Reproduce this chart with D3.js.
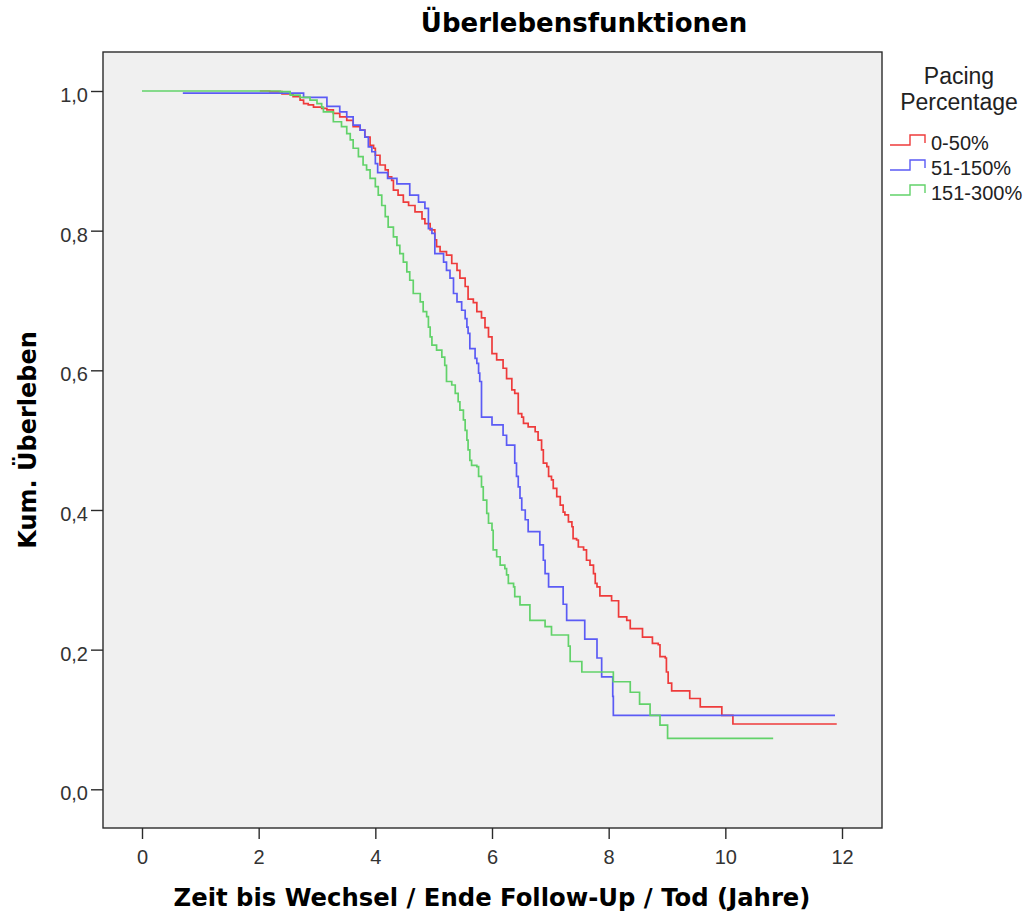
<!DOCTYPE html>
<html>
<head>
<meta charset="utf-8">
<script src="https://cdn.jsdelivr.net/npm/d3@7"></script>
<style>
  body { margin: 0; background: #fff; }
  svg { display: block; }
</style>
</head>
<body>
<script>
// groups and their colours in the legend order
const groups = ["0-50%", "51-150%", "151-300%"];
const colors = ["#ee3b3b", "#5b5bf5", "#62d26a"];

// Kaplan-Meier steps: [time (years), survival after the step]
const red = [
  [2.02, 1.0], [2.19, 0.999], [2.40, 0.996], [2.59, 0.992], [2.71, 0.987], [2.77, 0.982],
  [2.85, 0.980], [2.94, 0.977], [3.08, 0.975], [3.17, 0.973], [3.28, 0.968], [3.39, 0.963],
  [3.51, 0.958], [3.62, 0.949], [3.74, 0.944], [3.82, 0.934], [3.91, 0.922], [3.97, 0.918],
  [4.00, 0.908], [4.08, 0.894], [4.17, 0.887], [4.22, 0.877], [4.28, 0.872], [4.31, 0.858],
  [4.39, 0.851], [4.48, 0.841], [4.57, 0.836], [4.68, 0.827], [4.80, 0.817], [4.85, 0.810],
  [4.94, 0.801], [5.02, 0.787], [5.05, 0.777], [5.11, 0.770], [5.22, 0.765], [5.31, 0.753],
  [5.40, 0.743], [5.45, 0.732], [5.54, 0.720], [5.59, 0.702], [5.68, 0.697], [5.74, 0.684],
  [5.82, 0.675], [5.88, 0.661], [5.94, 0.648], [6.00, 0.624], [6.08, 0.615], [6.19, 0.603],
  [6.25, 0.588], [6.34, 0.572], [6.39, 0.567], [6.45, 0.538], [6.51, 0.533], [6.54, 0.524],
  [6.62, 0.519], [6.74, 0.512], [6.79, 0.500], [6.85, 0.486], [6.88, 0.467], [6.94, 0.462],
  [6.97, 0.448], [7.02, 0.443], [7.05, 0.431], [7.11, 0.419], [7.17, 0.407], [7.22, 0.397],
  [7.25, 0.393], [7.31, 0.383], [7.37, 0.376], [7.39, 0.359], [7.45, 0.357], [7.48, 0.347],
  [7.57, 0.343], [7.62, 0.328], [7.68, 0.321], [7.74, 0.309], [7.77, 0.295], [7.80, 0.290],
  [7.85, 0.277], [8.05, 0.270], [8.17, 0.247], [8.31, 0.242], [8.37, 0.230], [8.58, 0.218],
  [8.75, 0.209], [8.85, 0.207], [8.88, 0.190], [8.97, 0.188], [8.99, 0.168], [9.02, 0.152],
  [9.08, 0.141], [9.39, 0.130], [9.57, 0.118], [9.94, 0.106], [10.13, 0.0935], [11.91, 0.0935]
];

const blue = [
  [0.70, 0.997], [2.77, 0.991], [3.17, 0.978], [3.39, 0.970], [3.51, 0.963], [3.62, 0.951],
  [3.74, 0.944], [3.82, 0.934], [3.88, 0.920], [3.94, 0.913], [4.00, 0.896], [4.04, 0.883],
  [4.21, 0.875], [4.37, 0.867], [4.59, 0.851], [4.74, 0.841], [4.85, 0.832], [4.91, 0.803],
  [4.97, 0.796], [5.02, 0.767], [5.17, 0.755], [5.22, 0.743], [5.28, 0.732], [5.34, 0.710],
  [5.40, 0.698], [5.48, 0.686], [5.54, 0.674], [5.57, 0.662], [5.59, 0.653], [5.62, 0.631],
  [5.71, 0.617], [5.74, 0.610], [5.77, 0.596], [5.79, 0.584], [5.82, 0.533], [6.00, 0.522],
  [6.19, 0.507], [6.25, 0.493], [6.39, 0.467], [6.42, 0.448], [6.45, 0.433], [6.48, 0.417],
  [6.51, 0.400], [6.57, 0.386], [6.62, 0.369], [6.82, 0.350], [6.88, 0.328], [6.91, 0.309],
  [6.97, 0.290], [7.22, 0.265], [7.28, 0.242], [7.59, 0.215], [7.80, 0.188], [7.88, 0.161],
  [8.07, 0.133], [8.08, 0.106], [11.88, 0.106]
];

const green = [
  [0.00, 1.0], [2.37, 0.999], [2.54, 0.994], [2.71, 0.991], [2.88, 0.987], [3.00, 0.982],
  [3.08, 0.977], [3.11, 0.970], [3.28, 0.956], [3.42, 0.949], [3.51, 0.939], [3.57, 0.930],
  [3.62, 0.918], [3.71, 0.906], [3.79, 0.894], [3.85, 0.887], [3.91, 0.875], [4.00, 0.863],
  [4.05, 0.851], [4.11, 0.836], [4.17, 0.820], [4.22, 0.805], [4.31, 0.791], [4.37, 0.779],
  [4.42, 0.767], [4.48, 0.755], [4.54, 0.741], [4.59, 0.729], [4.65, 0.710], [4.77, 0.698],
  [4.82, 0.684], [4.88, 0.677], [4.91, 0.662], [4.94, 0.648], [4.97, 0.636], [5.05, 0.629],
  [5.14, 0.619], [5.19, 0.607], [5.22, 0.584], [5.31, 0.579], [5.37, 0.567], [5.42, 0.555],
  [5.45, 0.543], [5.51, 0.529], [5.54, 0.514], [5.57, 0.500], [5.59, 0.486], [5.62, 0.471],
  [5.65, 0.464], [5.74, 0.462], [5.77, 0.448], [5.82, 0.433], [5.85, 0.414], [5.91, 0.395],
  [5.94, 0.381], [6.00, 0.371], [6.02, 0.343], [6.08, 0.333], [6.14, 0.321], [6.22, 0.316],
  [6.25, 0.307], [6.28, 0.295], [6.37, 0.290], [6.39, 0.276], [6.48, 0.264], [6.65, 0.242],
  [6.91, 0.233], [7.02, 0.221], [7.31, 0.205], [7.34, 0.183], [7.54, 0.168], [8.08, 0.154],
  [8.37, 0.139], [8.53, 0.122], [8.71, 0.106], [8.88, 0.092], [9.01, 0.073], [10.82, 0.073]
];

const series = [red, blue, green];
const xTicks = [0, 2, 4, 6, 8, 10, 12];
const yTicks = [0, 0.2, 0.4, 0.6, 0.8, 1.0];

const W = 1029, H = 914;
const frame = {left: 103, right: 882, top: 52, bottom: 828};

const svg = d3.select("body").append("svg")
    .attr("width", W)
    .attr("height", H);

const x = d3.scaleLinear().domain([0, 12]).range([142, 842]);
const y = d3.scaleLinear().domain([0, 1]).range([789.3, 91]);

const de = d3.formatLocale({decimal: ",", thousands: ".", grouping: [3], currency: ["", " €"]});
const fmt = de.format(".1f");

// plot background
svg.append("rect")
    .attr("x", frame.left).attr("y", frame.top)
    .attr("width", frame.right - frame.left)
    .attr("height", frame.bottom - frame.top)
    .attr("fill", "#f0f0f0")
    .attr("stroke", "#2b2b2b")
    .attr("stroke-width", 1.4);

// axes
const xAxis = svg.append("g")
    .attr("transform", "translate(0," + frame.bottom + ")")
    .call(d3.axisBottom(x).tickValues(xTicks).tickSize(11).tickPadding(6).tickFormat(d3.format("d")));
const yAxis = svg.append("g")
    .attr("transform", "translate(" + frame.left + ",0)")
    .call(d3.axisLeft(y).tickValues(yTicks).tickSize(12).tickPadding(3).tickFormat(fmt));

[xAxis, yAxis].forEach(function (a) {
    a.select(".domain").remove();
    a.selectAll(".tick line").attr("stroke", "#2b2b2b").attr("stroke-width", 1.4);
    a.selectAll(".tick text")
        .attr("fill", "#333")
        .style("font-family", "'Liberation Sans', Arial, sans-serif")
        .style("font-size", "20px");
});
yAxis.selectAll(".tick text").attr("dy", "0.52em");
xAxis.selectAll(".tick text").attr("dy", "0.95em");

// survival curves
const line = d3.line()
    .x(d => x(d[0]))
    .y(d => y(d[1]))
    .curve(d3.curveStepAfter);

svg.append("g").selectAll("path")
    .data(series)
    .join("path")
    .attr("d", line)
    .attr("fill", "none")
    .attr("stroke", (d, i) => colors[i])
    .attr("stroke-width", 1.7);

// titles
svg.append("text")
    .attr("x", 584).attr("y", 32)
    .attr("text-anchor", "middle")
    .style("font-family", "'DejaVu Sans', sans-serif")
    .style("font-weight", "bold")
    .style("font-size", "26px")
    .text("Überlebensfunktionen");

svg.append("text")
    .attr("x", 492).attr("y", 906)
    .attr("text-anchor", "middle")
    .style("font-family", "'DejaVu Sans', sans-serif")
    .style("font-weight", "bold")
    .style("font-size", "24.3px")
    .text("Zeit bis Wechsel / Ende Follow-Up / Tod (Jahre)");

svg.append("text")
    .attr("transform", "translate(36,440) rotate(-90)")
    .attr("text-anchor", "middle")
    .style("font-family", "'DejaVu Sans', sans-serif")
    .style("font-weight", "bold")
    .style("font-size", "24px")
    .text("Kum. Überleben");

// legend
const legend = svg.append("g").style("font-family", "'Liberation Sans', Arial, sans-serif");
legend.append("text")
    .attr("x", 959).attr("y", 84)
    .attr("text-anchor", "middle")
    .attr("fill", "#222")
    .style("font-size", "23px")
    .text("Pacing");
legend.append("text")
    .attr("x", 959).attr("y", 110)
    .attr("text-anchor", "middle")
    .attr("fill", "#222")
    .style("font-size", "23px")
    .text("Percentage");

const items = legend.selectAll("g.item")
    .data(groups)
    .join("g")
    .attr("class", "item")
    .attr("transform", (d, i) => "translate(0," + (150 + i * 25) + ")");

items.append("path")
    .attr("d", "M890,-5H910V-15H925V-7")
    .attr("fill", "none")
    .attr("stroke", (d, i) => colors[i])
    .attr("stroke-width", 1.4);

items.append("text")
    .attr("x", 931)
    .attr("y", 0)
    .attr("fill", "#222")
    .style("font-size", "20px")
    .text(d => d);
</script>
</body>
</html>
